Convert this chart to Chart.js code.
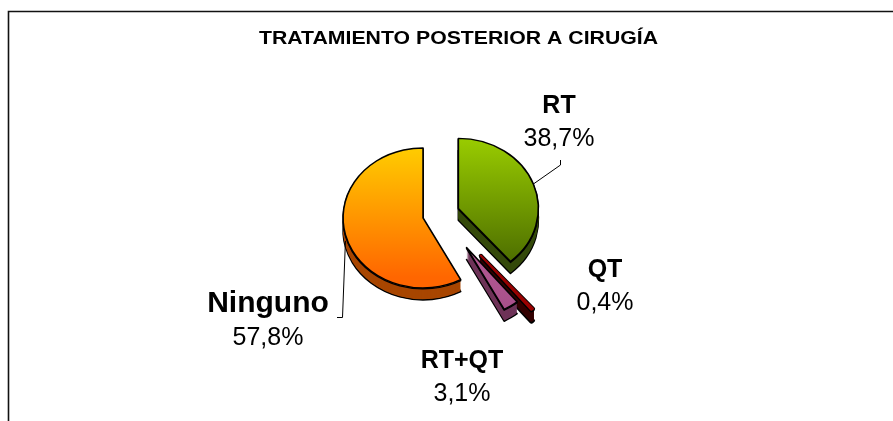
<!DOCTYPE html>
<html>
<head>
<meta charset="utf-8">
<title>Tratamiento posterior a cirugía</title>
<script src="https://cdn.jsdelivr.net/npm/chart.js@4"></script>
<style>
  html, body { margin: 0; padding: 0; background: #fff; }
  #chart { display: block; }
</style>
</head>
<body>
<canvas id="chart" width="893" height="421"></canvas>
<script>
// Chart data
const chartTitle = 'TRATAMIENTO POSTERIOR A CIRUGÍA';
const categories = ['RT', 'QT', 'RT+QT', 'Ninguno'];
const percentages = [38.7, 0.4, 3.1, 57.8];

// Look of the slices
const topLight = ['#99cc00', '#b00000', '#c466a0', '#ffcc00'];
const topDark = ['#4a6a00', '#990000', '#a8508a', '#ff6600'];
const sideColors = ['#34490a', '#330000', '#6e3358', '#a84600'];
const outlineWidths = [1.6, 4.2, 1.6, 1.6]; // black outline
const fillStroke = [0, 2.2, 0, 0];          // thin slices get a coloured stroke so they read
const explode = [18.5, 62, 46, 18.5];       // px pulled out from the centre
const TILT = 0.875;  // vertical squash of the pie
const DEPTH = 12;    // thickness of the pie in px

// Label placement (centre x, baseline of the name)
const labelAnchor = [[559, 113], [605, 277], [462, 368], [268, 312]];
const nameSize = [25, 25, 25, 30];
const FONT = '"Liberation Sans", Arial, sans-serif';

// Format 38.7 -> "38,7%"
function pct(v) {
    return v.toFixed(1).replace('.', ',') + '%';
}

// Draw an arc element with other colours, reusing the library geometry
function paintArc(ctx, arc, fill, stroke, width) {
    const fake = Object.create(arc);
    fake.options = Object.assign({}, arc.options, {
        backgroundColor: fill,
        borderColor: stroke,
        borderWidth: width,
        borderJoinStyle: 'round',
        offset: 0
    });
    arc.draw.call(fake, ctx);
}

// Screen centre of an exploded slice
function sliceCentre(arc, i) {
    const a = (arc.startAngle + arc.endAngle) / 2;
    return [arc.x + Math.cos(a) * explode[i], arc.y + Math.sin(a) * explode[i] * TILT];
}

const pie3d = {
    id: 'pie3d',
    beforeDatasetDraw(chart, args) {
        const ctx = chart.ctx;
        const arcs = args.meta.data;
        const cx = arcs[0].x, cy = arcs[0].y;

        function place(arc, i, dy) {
            const a = (arc.startAngle + arc.endAngle) / 2;
            ctx.translate(0, dy);
            ctx.translate(cx, cy);
            ctx.scale(1, TILT);
            ctx.translate(-cx, -cy);
            ctx.translate(Math.cos(a) * explode[i], Math.sin(a) * explode[i]);
        }

        // side walls, bottom layer first
        for (let d = DEPTH; d >= 1; d--) {
            arcs.forEach((arc, i) => {
                ctx.save();
                place(arc, i, d);
                if (d === DEPTH) {
                    paintArc(ctx, arc, sideColors[i], '#000', outlineWidths[i]);
                } else if (fillStroke[i]) {
                    paintArc(ctx, arc, sideColors[i], sideColors[i], fillStroke[i]);
                } else {
                    paintArc(ctx, arc, sideColors[i], sideColors[i], 0);
                }
                ctx.restore();
            });
        }
        // edge line where the wall meets the top
        arcs.forEach((arc, i) => {
            ctx.save();
            place(arc, i, 1);
            paintArc(ctx, arc, sideColors[i], '#000', outlineWidths[i] * 0.9);
            ctx.restore();
        });

        // top faces with vertical gradient
        arcs.forEach((arc, i) => {
            ctx.save();
            place(arc, i, 0);
            const g = ctx.createLinearGradient(0, cy - arc.outerRadius, 0, cy + arc.outerRadius * 0.85);
            g.addColorStop(0, topLight[i]);
            g.addColorStop(1, topDark[i]);
            paintArc(ctx, arc, g, '#000', outlineWidths[i]);
            if (fillStroke[i]) {
                paintArc(ctx, arc, g, topDark[i], fillStroke[i]);
            }
            ctx.restore();
        });
        return false;
    },
    afterDraw(chart) {
        const ctx = chart.ctx;
        const arcs = chart.getDatasetMeta(0).data;

        // outer frame (cut off on the right and bottom)
        ctx.save();
        ctx.strokeStyle = '#111';
        ctx.lineWidth = 1.6;
        ctx.beginPath();
        ctx.moveTo(8.5, 421);
        ctx.lineTo(8.5, 11.5);
        ctx.lineTo(893, 11.5);
        ctx.stroke();

        // title, stretched like the original
        ctx.fillStyle = '#000';
        ctx.font = 'bold 17.5px ' + FONT;
        ctx.textAlign = 'center';
        ctx.textBaseline = 'alphabetic';
        const tw = ctx.measureText(chartTitle).width;
        ctx.save();
        ctx.translate(458.5, 43.5);
        ctx.scale(399 / tw, 1);
        ctx.fillText(chartTitle, 0, 0);
        ctx.restore();

        // slice labels
        categories.forEach((name, i) => {
            const [x, y] = labelAnchor[i];
            ctx.font = 'bold ' + nameSize[i] + 'px ' + FONT;
            ctx.fillText(name, x, y);
            ctx.font = '25px ' + FONT;
            ctx.fillText(pct(percentages[i]), x, y + 33);
        });

        // leader lines
        ctx.strokeStyle = '#000';
        ctx.lineWidth = 1;
        const rt = arcs[0];
        const [gx, gy] = sliceCentre(rt, 0);
        const ga = (rt.startAngle + rt.endAngle) / 2;
        ctx.beginPath();
        ctx.moveTo(560.5, 160);
        ctx.lineTo(560.5, 165);
        ctx.lineTo(gx + Math.cos(ga) * rt.outerRadius, gy + Math.sin(ga) * rt.outerRadius * TILT);
        ctx.stroke();

        const ng = arcs[3];
        const [ox, oy] = sliceCentre(ng, 3);
        const oa = (ng.startAngle + ng.endAngle) / 2;
        ctx.beginPath();
        ctx.moveTo(ox + Math.cos(oa) * ng.outerRadius, oy + Math.sin(oa) * ng.outerRadius * TILT + DEPTH / 2);
        ctx.lineTo(342.5, 317.5);
        ctx.lineTo(337, 317.5);
        ctx.stroke();
        ctx.restore();
    }
};

new Chart(document.getElementById('chart'), {
    type: 'pie',
    data: {
        labels: categories,
        datasets: [{
            data: percentages,
            backgroundColor: topLight,
            borderColor: '#000',
            borderWidth: 1.6
        }]
    },
    options: {
        responsive: false,
        devicePixelRatio: 1,
        animation: false,
        radius: 80,
        layout: {
            padding: { left: 0, right: 11, top: 7, bottom: 0 }
        },
        plugins: {
            legend: { display: false },
            tooltip: { enabled: false },
            title: { display: false }
        }
    },
    plugins: [pie3d]
});
</script>
</body>
</html>
